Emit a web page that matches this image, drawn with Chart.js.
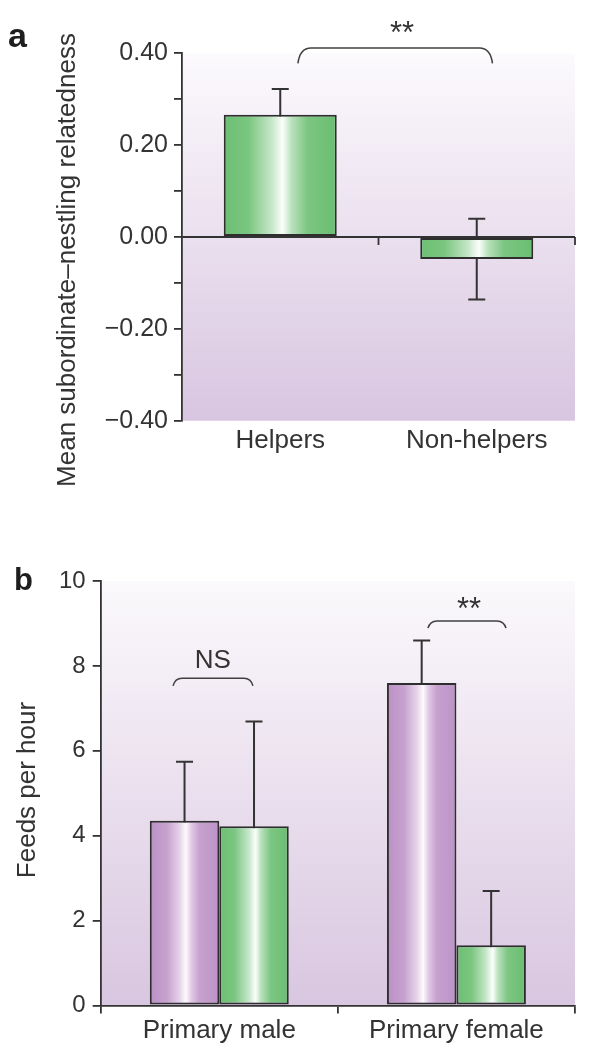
<!DOCTYPE html>
<html><head><meta charset="utf-8">
<script src="https://cdn.jsdelivr.net/npm/chart.js@4.4.1/dist/chart.umd.min.js"></script>
<style>
html,body{margin:0;padding:0;background:#fff;width:600px;height:1049px;overflow:hidden}
canvas{position:absolute;left:0}
#ca{top:0}
#cb{top:500px}
</style></head><body>
<canvas id="ca" width="600" height="500"></canvas>
<canvas id="cb" width="600" height="549"></canvas>
<script>
// ---------- Panel a data ----------
const categoriesA = ['Helpers', 'Non-helpers'];
const relatedness = [0.266, -0.048];
const relatednessSE = [0.056, 0.088];
const yTicksA = [-0.4, -0.3, -0.2, -0.1, 0, 0.1, 0.2, 0.3, 0.4];
const yLabelsA = ['\u22120.40', '', '\u22120.20', '', '0.00', '', '0.20', '', '0.40'];
const sigA = ['**'];

// ---------- Panel b data ----------
const categoriesB = ['Primary male', 'Primary female'];
const feedsPurple = [4.35, 7.60];
const feedsPurpleSE = [1.39, 1.00];
const feedsGreen = [4.22, 1.42];
const feedsGreenSE = [2.47, 1.28];
const yTicksB = [0, 2, 4, 6, 8, 10];
const yLabelsB = ['0', '2', '4', '6', '8', '10'];
const sigB = ['NS', '**'];

// ---------- styles ----------
const FONT = '"Liberation Sans", Arial, Helvetica, sans-serif';
const INK = '#333333';
Chart.defaults.font.family = FONT;
Chart.defaults.color = INK;

const greenStops = [[0, '#6cbf73'], [0.22, '#7bc681'], [0.42, '#c4e6c7'], [0.52, '#fbfefb'], [0.6, '#b9e1bc'], [0.74, '#7cc682'], [1, '#6abe71']];
const purpleStops = [[0, '#bb90c5'], [0.25, '#c7a2cf'], [0.43, '#e6d3ea'], [0.52, '#fdfafd'], [0.6, '#e0c9e5'], [0.72, '#c6a0ce'], [1, '#bd93c7']];

function gradientFill(stops) {
  return (c) => {
    const el = c.element;
    if (!el || !isFinite(el.x) || !isFinite(el.width)) return stops[0][1];
    const g = c.chart.ctx.createLinearGradient(el.x - el.width / 2, 0, el.x + el.width / 2, 0);
    stops.forEach(([o, col]) => g.addColorStop(o, col));
    return g;
  };
}

function decoPlugin(opts) {
  return {
    id: 'deco',
    beforeDraw(chart) {
      const { ctx, chartArea: a } = chart;
      const g = ctx.createLinearGradient(0, a.top, 0, a.bottom);
      opts.bg.forEach(([o, c]) => g.addColorStop(o, c));
      ctx.save();
      ctx.fillStyle = g;
      ctx.fillRect(a.left, a.top, a.right - a.left, a.bottom - a.top);
      ctx.restore();
    },
    beforeDatasetsDraw(chart) {
      const { ctx, chartArea: a, scales: { x, y } } = chart;
      ctx.save();
      ctx.strokeStyle = INK;
      ctx.lineWidth = 1.8;
      if (opts.zeroAxis) {
        const y0 = y.getPixelForValue(0);
        ctx.beginPath(); ctx.moveTo(a.left, y0); ctx.lineTo(a.right, y0); ctx.stroke();
        const n = chart.data.labels.length;
        for (let i = 1; i <= n; i++) {
          const bx = i < n ? (x.getPixelForValue(i - 1) + x.getPixelForValue(i)) / 2 : a.right;
          ctx.beginPath(); ctx.moveTo(bx, y0); ctx.lineTo(bx, y0 + 8); ctx.stroke();
        }
      }
      ctx.lineWidth = 2;
      chart.data.datasets.forEach((ds, di) => {
        const meta = chart.getDatasetMeta(di);
        meta.data.forEach((el, i) => {
          const v = ds.data[i], e = ds.errors[i];
          const yt = y.getPixelForValue(v + e), yb = y.getPixelForValue(v - e);
          ctx.beginPath();
          ctx.moveTo(el.x, yt); ctx.lineTo(el.x, yb);
          ctx.moveTo(el.x - 8.5, yt); ctx.lineTo(el.x + 8.5, yt);
          ctx.moveTo(el.x - 8.5, yb); ctx.lineTo(el.x + 8.5, yb);
          ctx.stroke();
        });
      });
      ctx.restore();
    },
    afterDraw(chart) {
      const { ctx, scales: { x, y } } = chart;
      const p0 = x.getPixelForValue(0), cw = x.getPixelForValue(1) - p0;
      const px = pos => p0 + pos * cw;
      ctx.save();
      ctx.strokeStyle = '#404040';
      ctx.lineWidth = 1.5;
      ctx.fillStyle = INK;
      opts.brackets.forEach(b => {
        const X0 = px(b.x0), X1 = px(b.x1);
        const Y = y.getPixelForValue(b.y), YE = y.getPixelForValue(b.yEnd);
        const r = opts.bracketR;
        ctx.beginPath();
        ctx.moveTo(X0, YE);
        ctx.quadraticCurveTo(X0 + 2, Y, X0 + r, Y);
        ctx.lineTo(X1 - r, Y);
        ctx.quadraticCurveTo(X1 - 2, Y, X1, YE);
        ctx.stroke();
        ctx.font = (b.text === '**' ? '31px ' : '26px ') + FONT;
        ctx.textAlign = 'center';
        ctx.textBaseline = 'alphabetic';
        ctx.fillText(b.text, px(b.tx), y.getPixelForValue(b.ty));
      });
      // panel letter
      ctx.font = 'bold ' + opts.letter[3] + 'px ' + FONT;
      ctx.textAlign = 'left';
      ctx.textBaseline = 'alphabetic';
      ctx.fillStyle = '#1e1e1e';
      ctx.fillText(opts.letter[0], opts.letter[1], opts.letter[2]);
      // y axis title
      ctx.fillStyle = INK;
      ctx.font = '26px ' + FONT;
      ctx.translate(opts.title[1], opts.title[2]);
      ctx.rotate(-Math.PI / 2);
      ctx.textAlign = 'center';
      ctx.fillText(opts.title[0], 0, 0);
      ctx.restore();
    }
  };
}

const gridY = { display: true, drawOnChartArea: false, drawTicks: true, tickLength: 8, color: INK, lineWidth: 1.8 };

// ---------- Panel a ----------
const chartA = new Chart(document.getElementById('ca'), {
  type: 'bar',
  data: {
    labels: categoriesA,
    datasets: [{
      data: relatedness,
      errors: relatednessSE,
      backgroundColor: gradientFill(greenStops),
      borderColor: '#2e2e2e',
      borderWidth: 2,
      borderSkipped: false,
      barPercentage: 0.575,
      categoryPercentage: 1
    }]
  },
  options: {
    responsive: false, animation: false, devicePixelRatio: 1, events: [],
    layout: { padding: { left: 0, right: 25, top: 53.3, bottom: 0 } },
    plugins: { legend: { display: false }, tooltip: { enabled: false } },
    scales: {
      x: {
        grid: { display: false, drawTicks: false },
        border: { display: false },
        ticks: { padding: 5, font: { size: 26 }, color: INK },
        afterFit: s => { s.height = 79.3; }
      },
      y: {
        min: -0.4, max: 0.4,
        afterBuildTicks: s => { s.ticks = yTicksA.map(v => ({ value: v })); },
        ticks: { callback: (v, i) => yLabelsA[i], font: { size: 25 }, padding: 6, color: INK, autoSkip: false },
        grid: gridY,
        border: { display: true, color: INK, width: 1.8 },
        afterFit: s => { s.width = 182; }
      }
    }
  },
  plugins: [decoPlugin({
    bg: [[0, '#fcfafd'], [1, '#d8c5e0']],
    zeroAxis: true,
    bracketR: 13,
    brackets: [{ x0: 0.09, x1: 1.08, y: 0.4115, yEnd: 0.378, tx: 0.62, ty: 0.4225, text: sigA[0] }],
    letter: ['a', 8, 47, 34],
    title: ['Mean subordinate\u2013nestling relatedness', 75, 260]
  })]
});
chartA.update('none');

// ---------- Panel b ----------
const chartB = new Chart(document.getElementById('cb'), {
  type: 'bar',
  data: {
    labels: categoriesB,
    datasets: [{
      data: feedsPurple,
      errors: feedsPurpleSE,
      backgroundColor: gradientFill(purpleStops),
      borderColor: '#2e2e2e', borderWidth: 2, borderSkipped: false,
      barPercentage: 1, categoryPercentage: 0.586
    }, {
      data: feedsGreen,
      errors: feedsGreenSE,
      backgroundColor: gradientFill(greenStops),
      borderColor: '#2e2e2e', borderWidth: 2, borderSkipped: false,
      barPercentage: 1, categoryPercentage: 0.586
    }]
  },
  options: {
    responsive: false, animation: false, devicePixelRatio: 1, events: [],
    layout: { padding: { left: 0, right: 25, top: 81, bottom: 0 } },
    plugins: { legend: { display: false }, tooltip: { enabled: false } },
    scales: {
      x: {
        grid: { display: true, drawOnChartArea: false, drawTicks: true, tickLength: 8, color: INK, lineWidth: 1.8, offset: true },
        border: { display: true, color: INK, width: 1.8 },
        ticks: { padding: 2.2, font: { size: 26 }, color: INK },
        afterFit: s => { s.height = 43.5; }
      },
      y: {
        min: 0, max: 10,
        afterBuildTicks: s => { s.ticks = yTicksB.map(v => ({ value: v })); },
        ticks: { callback: (v, i) => yLabelsB[i], font: { size: 24 }, padding: 7, color: INK, autoSkip: false },
        grid: gridY,
        border: { display: true, color: INK, width: 1.8 },
        afterFit: s => { s.width = 100.7; }
      }
    }
  },
  plugins: [decoPlugin({
    bg: [[0, '#fbf9fc'], [1, '#d9c6e0']],
    zeroAxis: false,
    bracketR: 9,
    brackets: [
      { x0: -0.195, x1: 0.142, y: 7.71, yEnd: 7.53, tx: -0.027, ty: 7.94, text: sigB[0] },
      { x0: 0.88, x1: 1.209, y: 9.06, yEnd: 8.89, tx: 1.053, ty: 9.10, text: sigB[1] }
    ],
    letter: ['b', 14, 90, 31],
    title: ['Feeds per hour', 35, 290]
  })]
});
chartB.update('none');
</script>
</body></html>
